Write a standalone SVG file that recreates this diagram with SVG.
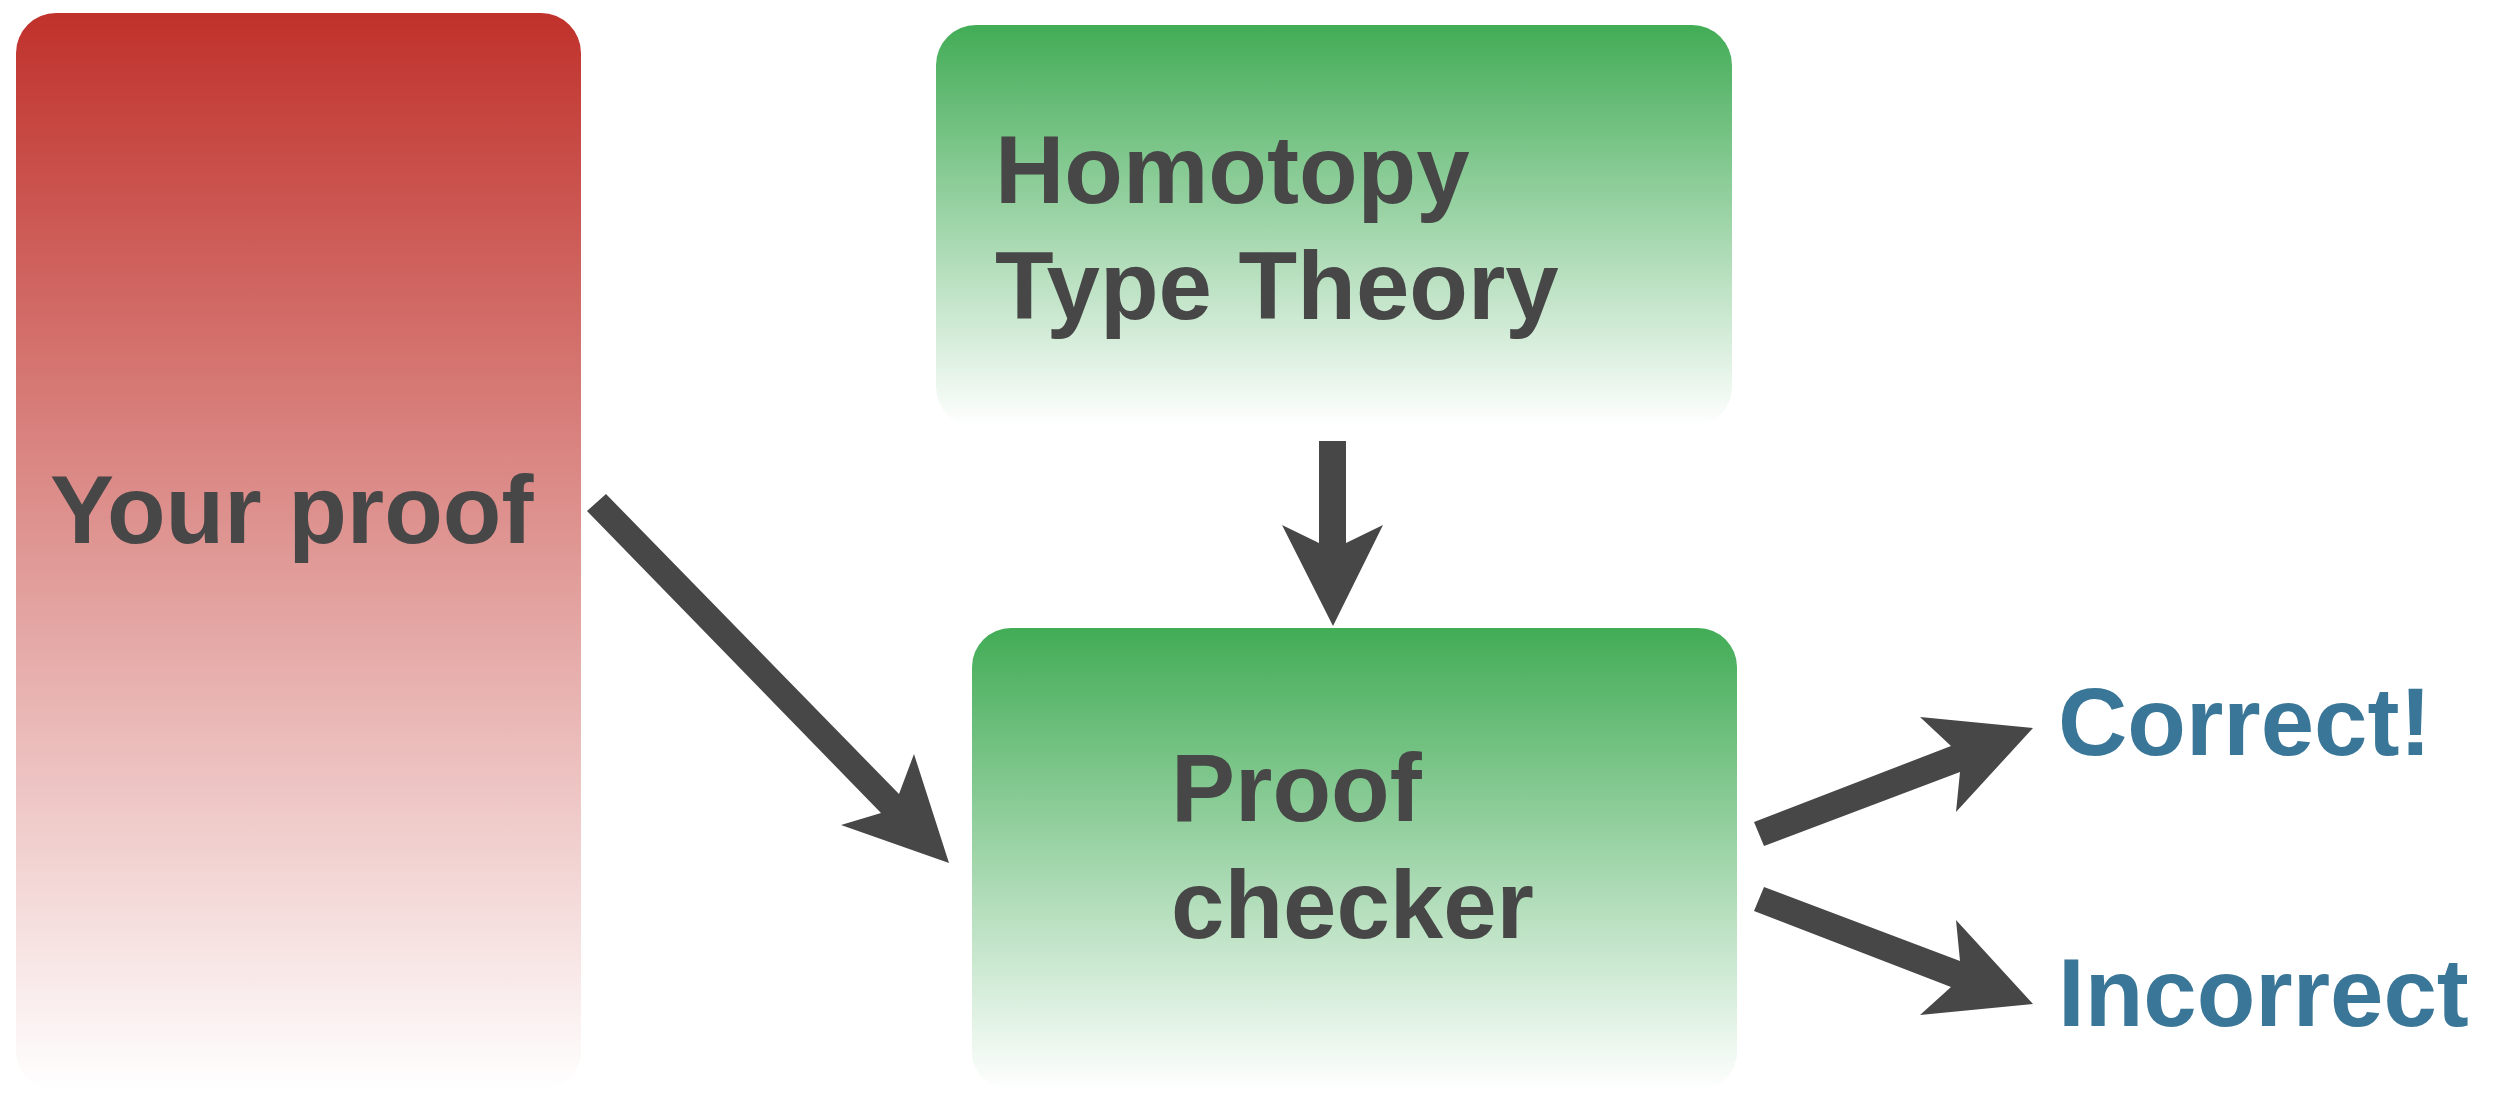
<svg xmlns="http://www.w3.org/2000/svg" width="2509" height="1093" viewBox="0 0 2509 1093">
  <style>
    .label { font-family: "Liberation Sans", Arial, Helvetica, sans-serif; font-weight: bold; font-size: 96px; fill: #474747; }
    .result { fill: #3A7697; }
    .arrow { fill: #474747; }
  </style>
  <defs>
    <linearGradient id="redFade" x1="0" y1="0" x2="0" y2="1">
      <stop offset="0" stop-color="#C0312B"/>
      <stop offset="1" stop-color="#FFFFFF"/>
    </linearGradient>
    <linearGradient id="greenFade" x1="0" y1="0" x2="0" y2="1">
      <stop offset="0" stop-color="#42AC56"/>
      <stop offset="1" stop-color="#FFFFFF"/>
    </linearGradient>
  </defs>

  <rect width="2509" height="1093" fill="#FFFFFF"/>

  <!-- Input: the user's proof -->
  <g id="your-proof">
    <rect x="16" y="13" width="565" height="1078" rx="40" ry="40" fill="url(#redFade)"/>
    <text class="label" x="50" y="543">Your proof</text>
  </g>

  <!-- Foundational theory -->
  <g id="hott">
    <rect x="936" y="25" width="796" height="402" rx="40" ry="40" fill="url(#greenFade)"/>
    <text class="label" x="995" y="203">Homotopy</text>
    <text class="label" x="995" y="319">Type Theory</text>
  </g>

  <!-- The checker -->
  <g id="proof-checker">
    <rect x="972" y="628" width="765" height="463" rx="39" ry="39" fill="url(#greenFade)"/>
    <text class="label" x="1171" y="821">Proof</text>
    <text class="label" x="1171" y="938">checker</text>
  </g>

  <!-- Outcomes -->
  <g id="correct">
    <text class="label result" x="2058" y="755">Correct!</text>
  </g>
  <g id="incorrect">
    <text class="label result" x="2058" y="1026">Incorrect</text>
  </g>

  <!-- Connectors: block arrows -->
  <g id="connectors">
    <polygon class="arrow" points="587,511 606,494 899,794 914,754 949,863 841,825 881,813"/>
    <polygon class="arrow" points="1319,441 1346,441 1346,543 1383,525 1333,626 1282,525 1319,543"/>
    <polygon class="arrow" points="1754,822 1951,746 1920,717 2033,728 1956,812 1960,772 1764,846"/>
    <polygon class="arrow" points="1754,911 1951,987 1920,1015 2033,1004 1956,920 1960,961 1764,887"/>
  </g>
</svg>
